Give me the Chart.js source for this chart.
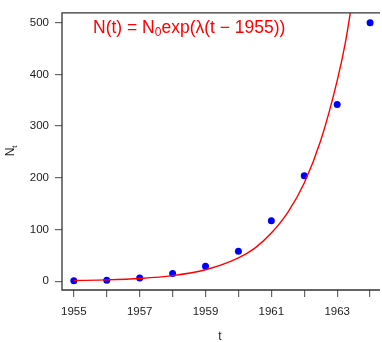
<!DOCTYPE html>
<html>
<head>
<meta charset="utf-8">
<script src="https://cdn.jsdelivr.net/npm/chart.js@4/dist/chart.umd.min.js"></script>
<style>
  html, body { margin: 0; padding: 0; background: #fff; }
  canvas { display: block; }
</style>
</head>
<body>
<canvas id="myChart" width="382" height="342"></canvas>
<script>
// observed counts, one per year
const years = [1955, 1956, 1957, 1958, 1959, 1960, 1961, 1962, 1963, 1964];
const counts = [1, 2, 6, 15, 29, 58, 117, 204, 342, 500];
// red fitted curve
const curveT = [1955, 1956, 1957, 1958, 1959, 1960, 1960.5, 1961, 1961.5, 1962, 1962.5, 1963, 1963.25, 1963.5];
const curveN = [1.2, 2.5, 5.2, 10.7, 22, 45, 64, 93, 133, 190, 272, 388, 462, 560];
// axis ticks
const xTicks = [1955, 1956, 1957, 1958, 1959, 1960, 1961, 1962, 1963, 1964];
const xLabels = ['1955', '', '1957', '', '1959', '', '1961', '', '1963', ''];
const yTicks = [0, 100, 200, 300, 400, 500];

const FONT = '"Liberation Sans", Arial, sans-serif';

// box, formula and axis titles drawn by hand (R style)
const rStyle = {
  id: 'rStyle',
  afterDraw(chart) {
    const c = chart.ctx;
    const a = chart.chartArea;
    c.save();
    c.strokeStyle = '#333';
    c.lineWidth = 1.3;
    c.beginPath();
    c.moveTo(a.right + 2, a.top);
    c.lineTo(a.left, a.top);
    c.lineTo(a.left, a.bottom);
    c.lineTo(a.right + 2, a.bottom);
    c.stroke();

    // formula
    c.fillStyle = '#ff0000';
    c.textBaseline = 'alphabetic';
    c.textAlign = 'left';
    let x = 93, y = 33;
    c.font = '17.5px ' + FONT;
    const p1 = 'N(t) = N';
    c.fillText(p1, x, y);
    x += c.measureText(p1).width;
    c.font = '12px ' + FONT;
    c.fillText('0', x, y + 3);
    x += c.measureText('0').width;
    c.font = '17.5px ' + FONT;
    c.fillText('exp(λ(t − 1955))', x, y);

    // x title
    c.fillStyle = '#222';
    c.font = '12px ' + FONT;
    c.textAlign = 'center';
    c.textBaseline = 'middle';
    c.fillText('t', (a.left + a.right) / 2, 337);

    // y title N_t
    c.translate(14, 150);
    c.rotate(-Math.PI / 2);
    c.textAlign = 'left';
    c.textBaseline = 'alphabetic';
    c.font = '12px ' + FONT;
    const w = c.measureText('N').width;
    c.fillText('N', -w / 2 - 2, 0);
    c.font = '8px ' + FONT;
    c.fillText('t', w / 2 - 2, 3);
    c.restore();
  }
};

const ctx = document.getElementById('myChart').getContext('2d');
const myChart = new Chart(ctx, {
  type: 'scatter',
  data: {
    datasets: [
      {
        type: 'line',
        data: curveT.map((t, i) => ({ x: t, y: curveN[i] })),
        borderColor: '#ff0000',
        borderWidth: 1.4,
        pointRadius: 0,
        cubicInterpolationMode: 'monotone',
        fill: false
      },
      {
        data: years.map((t, i) => ({ x: t, y: counts[i] })),
        backgroundColor: '#0000ff',
        borderColor: '#0000ff',
        pointRadius: 3.5,
        pointBorderWidth: 0
      }
    ]
  },
  options: {
    responsive: false,
    animation: false,
    layout: { padding: { top: 8, right: 0, left: 0, bottom: 0 } },
    plugins: { legend: { display: false }, tooltip: { enabled: false } },
    scales: {
      x: {
        type: 'linear',
        min: 1954.64,
        max: 1964.24,
        afterBuildTicks: s => { s.ticks = xTicks.map(v => ({ value: v })); },
        afterFit: s => { s.height = 52; },
        border: { display: false },
        grid: { drawOnChartArea: false, drawTicks: true, tickLength: 7, tickColor: '#666', lineWidth: 1.2 },
        ticks: {
          autoSkip: false,
          maxRotation: 0,
          padding: 8,
          color: '#222',
          font: { family: FONT, size: 11.5 },
          callback: (v, i) => xLabels[i]
        }
      },
      y: {
        min: -17.1,
        max: 519,
        afterBuildTicks: s => { s.ticks = yTicks.map(v => ({ value: v })); },
        afterFit: s => { s.width = 62; },
        border: { display: false },
        grid: { drawOnChartArea: false, drawTicks: true, tickLength: 7, tickColor: '#666', lineWidth: 1.2 },
        ticks: {
          padding: 6,
          color: '#222',
          font: { family: FONT, size: 11.5 }
        }
      }
    }
  },
  plugins: [rStyle]
});
</script>
</body>
</html>
